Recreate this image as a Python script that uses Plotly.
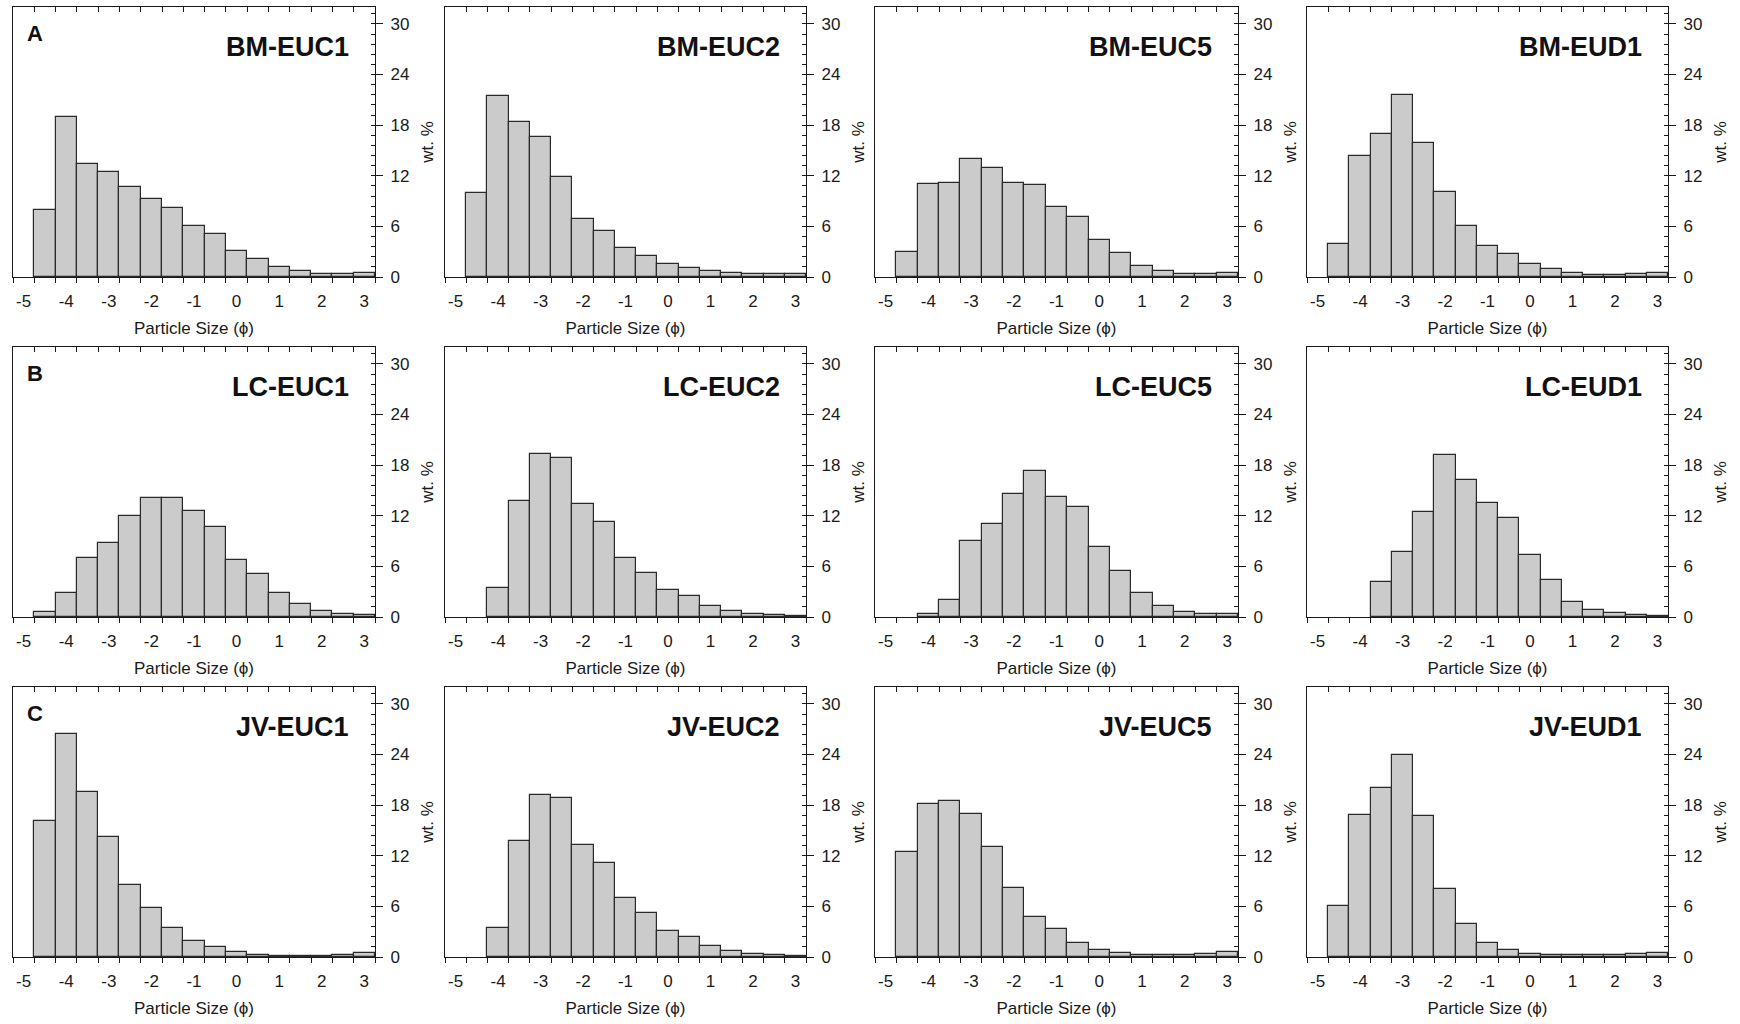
import plotly.graph_objects as go

# bin centres (phi), 0.5-phi classes
PHI = [-5.0, -4.5, -4.0, -3.5, -3.0, -2.5, -2.0, -1.5, -1.0, -0.5,
       0.0, 0.5, 1.0, 1.5, 2.0, 2.5, 3.0]

BM_EUC1 = [None, 7.9, 19.0, 13.4, 12.4, 10.65, 9.3, 8.15, 6.1, 5.05, 3.1, 2.15, 1.2, 0.75, 0.4, 0.4, 0.45]
BM_EUC2 = [None, 10.0, 21.4, 18.4, 16.55, 11.8, 6.9, 5.5, 3.4, 2.45, 1.5, 1.05, 0.68, 0.48, 0.36, 0.36, 0.36]
BM_EUC5 = [None, 3.0, 11.0, 11.2, 14.0, 12.9, 11.1, 10.9, 8.35, 7.07, 4.37, 2.82, 1.35, 0.75, 0.4, 0.4, 0.52]
BM_EUD1 = [None, 3.9, 14.4, 16.9, 21.6, 15.85, 10.1, 6.1, 3.73, 2.7, 1.6, 0.95, 0.52, 0.28, 0.28, 0.4, 0.52]

LC_EUC1 = [None, 0.6, 2.8, 6.95, 8.8, 12.0, 14.05, 14.05, 12.55, 10.65, 6.75, 5.05, 2.86, 1.6, 0.75, 0.32, 0.2]
LC_EUC2 = [None, None, 3.4, 13.8, 19.3, 18.9, 13.4, 11.25, 7.0, 5.2, 3.2, 2.45, 1.36, 0.76, 0.32, 0.2, 0.08]
LC_EUC5 = [None, None, 0.4, 2.07, 9.0, 11.0, 14.6, 17.25, 14.2, 13.0, 8.35, 5.5, 2.8, 1.27, 0.56, 0.36, 0.36]
LC_EUD1 = [None, None, None, 4.15, 7.7, 12.45, 19.2, 16.2, 13.5, 11.7, 7.4, 4.43, 1.78, 0.87, 0.44, 0.24, 0.12]

JV_EUC1 = [None, 16.15, 26.4, 19.55, 14.25, 8.5, 5.77, 3.46, 1.95, 1.15, 0.56, 0.24, 0.12, 0.12, 0.12, 0.24, 0.44]
JV_EUC2 = [None, None, 3.38, 13.8, 19.25, 18.8, 13.3, 11.2, 6.96, 5.17, 3.14, 2.43, 1.35, 0.68, 0.32, 0.2, 0.08]
JV_EUC5 = [None, 12.45, 18.15, 18.45, 16.9, 13.07, 8.15, 4.73, 3.26, 1.67, 0.8, 0.52, 0.2, 0.24, 0.24, 0.4, 0.6]
JV_EUD1 = [None, 6.09, 16.83, 20.0, 23.9, 16.7, 8.04, 3.9, 1.63, 0.8, 0.4, 0.28, 0.2, 0.2, 0.2, 0.32, 0.52]

SAMPLES = [
    ("BM-EUC1", BM_EUC1), ("BM-EUC2", BM_EUC2), ("BM-EUC5", BM_EUC5), ("BM-EUD1", BM_EUD1),
    ("LC-EUC1", LC_EUC1), ("LC-EUC2", LC_EUC2), ("LC-EUC5", LC_EUC5), ("LC-EUD1", LC_EUD1),
    ("JV-EUC1", JV_EUC1), ("JV-EUC2", JV_EUC2), ("JV-EUC5", JV_EUC5), ("JV-EUD1", JV_EUD1),
]
ROW_LABELS = ["A", "B", "C"]

X_TICKS = [-5, -4, -3, -2, -1, 0, 1, 2, 3]
X_EDGES = [-5.25 + 0.5 * i for i in range(18)]
Y_TICKS = [0, 6, 12, 18, 24, 30]

W, H = 1740, 1024
COLS_PX = [(13, 375), (445, 806), (875, 1238), (1307, 1668)]
ROWS_PX = [(7, 277), (347, 617), (687, 957)]

FONT = "Liberation Sans, Arial, sans-serif"
INK = "#1a1a1a"

fig = go.Figure()
layout = dict(
    width=W, height=H, margin=dict(l=0, r=0, t=0, b=0, autoexpand=False),
    paper_bgcolor="white", plot_bgcolor="white", showlegend=False,
    font=dict(family=FONT, size=17, color=INK),
    bargap=0,
)
annotations = []

for i, (name, vals) in enumerate(SAMPLES):
    r, c = divmod(i, 4)
    k = i + 1
    kt = i + 13
    xs = "" if k == 1 else str(k)
    x0, x1 = COLS_PX[c]
    yt, yb = ROWS_PX[r]
    xdom = [x0 / W, x1 / W]
    ydom = [1 - yb / H, 1 - yt / H]

    fig.add_trace(go.Bar(
        x=PHI, y=vals, width=0.5, xaxis="x" + xs, yaxis="y" + xs,
        marker=dict(color="#cbcbcb", line=dict(color="#2a2a2a", width=1.2)),
        hoverinfo="x+y",
    ))
    # empty trace to carry the top tick axis
    fig.add_trace(go.Scatter(x=[None], y=[None], xaxis="x" + str(kt), yaxis="y" + xs,
                             mode="markers", hoverinfo="skip"))

    layout["xaxis" + xs] = dict(
        domain=xdom, anchor="y" + xs, range=[-5.25, 3.25], automargin=False,
        tickmode="array", tickvals=X_TICKS, ticktext=[str(v) for v in X_TICKS],
        ticks="outside", ticklen=6, tickcolor="rgba(0,0,0,0)", ticklabelstandoff=2,
        minor=dict(tickmode="array", tickvals=X_EDGES, ticks="outside", ticklen=5,
                   tickcolor=INK, tickwidth=1),
        showline=True, linecolor=INK, linewidth=1.3, showgrid=False, zeroline=False,
        tickfont=dict(size=17, color=INK),
        title=dict(text="Particle Size (ϕ)", font=dict(size=17, color=INK), standoff=12),
        fixedrange=True,
    )
    layout["xaxis" + str(kt)] = dict(
        domain=xdom, anchor="y" + xs, overlaying="x" + xs, side="top",
        range=[-5.25, 3.25], tickmode="array", tickvals=X_EDGES, automargin=False,
        ticks="inside", ticklen=5, tickcolor=INK, showticklabels=False,
        showline=True, linecolor=INK, linewidth=1.3, showgrid=False, zeroline=False,
        fixedrange=True,
    )
    layout["yaxis" + xs] = dict(
        domain=ydom, anchor="x" + xs, side="right", range=[0, 32], automargin=False,
        tickmode="array", tickvals=Y_TICKS,
        ticks="outside", ticklen=7, tickcolor=INK, ticklabelstandoff=4,
        minor=dict(dtick=1.2, tick0=0, ticks="inside", ticklen=4, tickcolor=INK),
        showline=True, mirror=True, linecolor=INK, linewidth=1.3,
        showgrid=False, zeroline=False,
        tickfont=dict(size=17, color=INK),
        title=dict(text="wt. %", font=dict(size=17, color=INK), standoff=12),
        fixedrange=True,
    )

    annotations.append(dict(
        text="<b>%s</b>" % name, xref="x%s domain" % xs, yref="y%s domain" % xs,
        x=1 - 24 / 362, y=1 - 40 / 270, xanchor="right", yanchor="middle",
        showarrow=False, font=dict(size=27, color="#111111", family=FONT),
    ))
    if c == 0:
        annotations.append(dict(
            text="<b>%s</b>" % ROW_LABELS[r], xref="x%s domain" % xs, yref="y%s domain" % xs,
            x=12 / 362, y=1 - 26 / 270, xanchor="left", yanchor="middle",
            showarrow=False, font=dict(size=22, color="#111111", family=FONT),
        ))

layout["annotations"] = annotations
fig.update_layout(**layout)
fig.write_html("out.html")
